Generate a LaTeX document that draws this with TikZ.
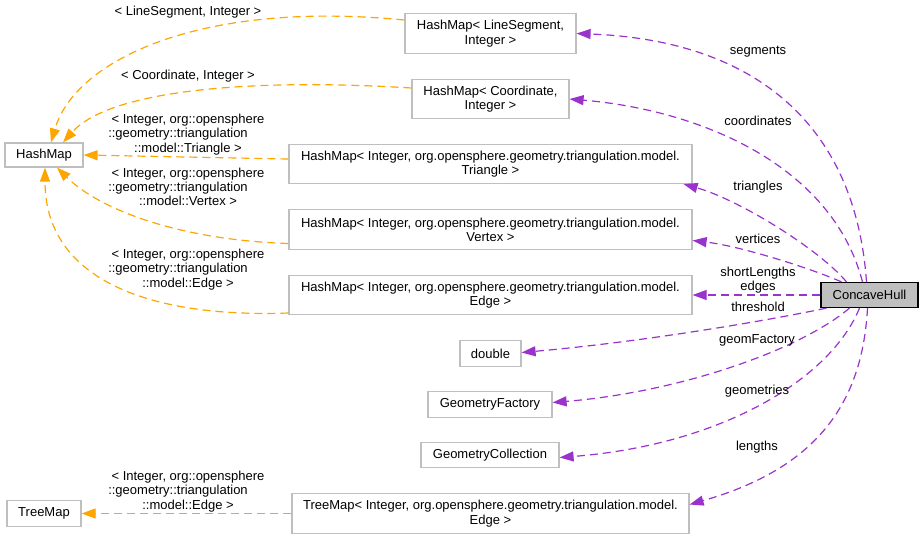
\documentclass[tikz,border=0pt]{standalone}
\usepackage{fontspec}
\setmainfont{Liberation Sans}
\usetikzlibrary{arrows.meta}
\definecolor{boxgray}{HTML}{BFBFBF}
\definecolor{inhcol}{HTML}{FFA500}
\definecolor{usecol}{HTML}{9A32CD}
\begin{document}
\begin{tikzpicture}[x=1pt,y=-1pt,
  font=\fontsize{13}{14.3}\selectfont,
  cls/.style={draw=boxgray, line width=1.2pt, fill=white, inner sep=0pt, align=center},
  main/.style={draw=black, line width=1.2pt, fill=boxgray, inner sep=0pt, align=center},
  lbl/.style={inner sep=0pt, align=center},
  inh/.style={draw=inhcol, line width=1.2pt, dash pattern=on 8pt off 5pt, -{Triangle[length=14pt,width=10pt]}},
  use/.style={draw=usecol, line width=1.2pt, dash pattern=on 8pt off 5pt, -{Triangle[length=14pt,width=10pt]}}]
\useasboundingbox (0,0) rectangle (924,539);
% classes
\node[cls, minimum width=78pt, minimum height=24pt] (hm) at (44,155) {HashMap};
\node[cls, minimum width=74pt, minimum height=26pt] (tm) at (44,513.5) {TreeMap};
\node[cls, minimum width=171pt, minimum height=40pt] (hls) at (490.5,33.5) {HashMap< LineSegment,\\Integer >};
\node[cls, minimum width=157pt, minimum height=39pt] (hco) at (490.5,99) {HashMap< Coordinate,\\Integer >};
\node[cls, minimum width=403pt, minimum height=39pt] (htr) at (490.5,164) {HashMap< Integer, org.opensphere.geometry.triangulation.model.\\Triangle >};
\node[cls, minimum width=403pt, minimum height=40pt] (hve) at (490.5,229.5) {HashMap< Integer, org.opensphere.geometry.triangulation.model.\\Vertex >};
\node[cls, minimum width=403pt, minimum height=39pt] (hed) at (490.5,295) {HashMap< Integer, org.opensphere.geometry.triangulation.model.\\Edge >};
\node[main, minimum width=97pt, minimum height=25pt] (ch) at (869.5,295) {ConcaveHull};
\node[cls, minimum width=61pt, minimum height=26pt] (dbl) at (490.5,353.5) {double};
\node[cls, minimum width=124pt, minimum height=26pt] (gf) at (490,404.5) {GeometryFactory};
\node[cls, minimum width=138pt, minimum height=25pt] (gc) at (490,455) {GeometryCollection};
\node[cls, minimum width=397pt, minimum height=40pt] (tme) at (490.5,513.5) {TreeMap< Integer, org.opensphere.geometry.triangulation.model.\\Edge >};
% inheritance (template) edges
\draw[inh] ([yshift=13.5pt]hls.west) .. controls (200,0) and (75,60) .. ([xshift=7pt]hm.north);
\draw[inh] ([yshift=11pt]hco.west) .. controls (250,78) and (110,90) .. ([xshift=19pt]hm.north);
\draw[inh] ([yshift=5pt]htr.west) -- (hm.east);
\draw[inh] ([yshift=-14pt]hve.west) .. controls (180,240) and (100,210) .. ([xshift=13pt]hm.south);
\draw[inh] ([yshift=-18pt]hed.west) .. controls (150,318) and (45,280) .. ([xshift=1pt]hm.south);
\draw[inh] (tme.west) -- (tm.east);
\node[lbl] (l1) at (188,12.5) {< LineSegment, Integer >};
\node[lbl] (l2) at (188,76.5) {< Coordinate, Integer >};
\node[lbl] (l3) at (188,134.5) {< Integer, org::opensphere\\::geometry::triangulation\rule{20pt}{0pt}\\::model::Triangle >};
\node[lbl] (l4) at (188,187) {< Integer, org::opensphere\\::geometry::triangulation\rule{20pt}{0pt}\\::model::Vertex >};
\node[lbl] (l5) at (188,269.5) {< Integer, org::opensphere\\::geometry::triangulation\rule{20pt}{0pt}\\::model::Edge >};
\node[lbl] (l6) at (188,491.5) {< Integer, org::opensphere\\::geometry::triangulation\rule{20pt}{0pt}\\::model::Edge >};
% usage edges
\draw[use] ([xshift=-3pt]ch.north) .. controls (855,120) and (750,40) .. (hls.east);
\draw[use] ([xshift=-7pt]ch.north) .. controls (832,165) and (700,110) .. (hco.east);
\draw[use] ([xshift=-23pt]ch.north) .. controls (820,250) and (740,200) .. ([xshift=-9pt]htr.south east);
\draw[use] ([xshift=-28pt]ch.north) .. controls (810,268) and (740,246) .. ([yshift=-11pt]hve.east);
\draw[use] (ch.west) -- (hed.east);
\draw[use] ([xshift=-43pt]ch.south) .. controls (760,322) and (640,342) .. ([yshift=1pt]dbl.east);
\draw[use] ([xshift=-20pt]ch.south) .. controls (800,350) and (680,392) .. ([yshift=2pt]gf.east);
\draw[use] ([xshift=-10pt]ch.south) .. controls (830,380) and (720,445) .. ([yshift=-2.5pt]gc.east);
\draw[use] ([xshift=-2pt]ch.south) .. controls (862,410) and (810,470) .. ([yshift=9pt]tme.east);
\node[lbl] (u1) at (758,51.5) {segments};
\node[lbl] (u2) at (758,120.5) {coordinates};
\node[lbl] (u3) at (758,187.5) {triangles};
\node[lbl] (u4) at (758,238.5) {vertices};
\node[lbl] (u5) at (758,280) {shortLengths\\edges};
\node[lbl] (u6) at (758,306.5) {threshold};
\node[lbl] (u7) at (757,340.5) {geomFactory};
\node[lbl] (u8) at (757,391.5) {geometries};
\node[lbl] (u9) at (757,447.5) {lengths};
\end{tikzpicture}
\end{document}
